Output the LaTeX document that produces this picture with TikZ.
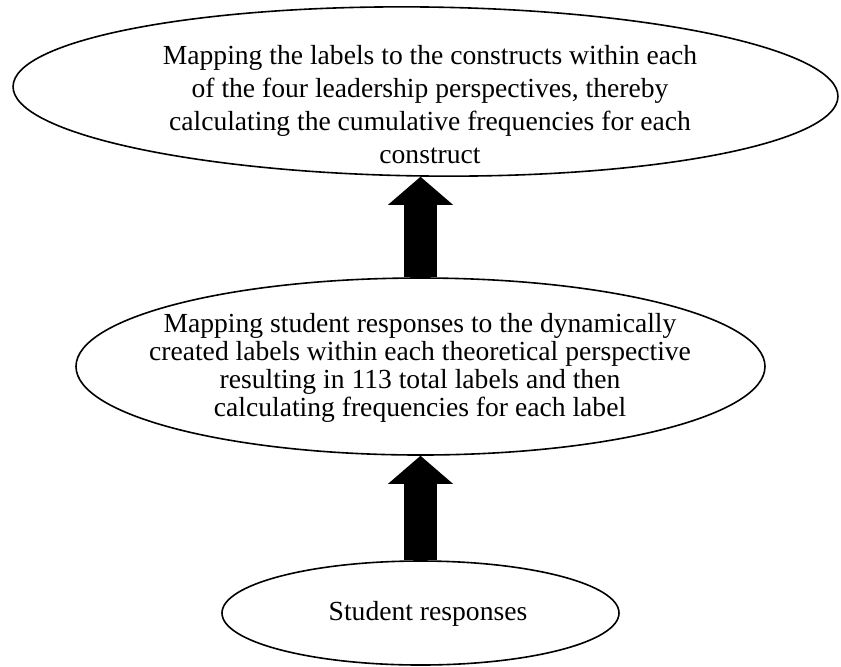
\documentclass[tikz,border=0pt]{standalone}
\usepackage{fontspec}
\setmainfont{Liberation Serif}
\usetikzlibrary{shapes.geometric,arrows.meta}
\begin{document}
\begin{tikzpicture}[x=0.5pt,y=-0.5pt,
  oval/.style={draw,ellipse,line width=0.8pt,inner sep=0pt},
  txt/.style={align=center,inner sep=0pt,font=\fontsize{13.8}{16.6}\selectfont},
  blockarrow/.style={line width=16.5pt,-{Triangle[width=32.5pt,length=14pt,line width=0pt]}}]
  \useasboundingbox (0,0) rectangle (841,666);
  % the three stages
  \node[oval,minimum width=412.5pt,minimum height=84.5pt,rotate=-0.7] (top) at (425.5,91.5) {};
  \node[oval,minimum width=344.5pt,minimum height=88.5pt] (mid) at (420.5,366.5) {};
  \node[oval,minimum width=198.5pt,minimum height=52pt] (bot) at (420.5,613) {};
  \node[txt] (toptxt) at (430,104.6) {Mapping the labels to the constructs within each\\
    of the four leadership perspectives, thereby\\
    calculating the cumulative frequencies for each\\
    construct};
  \node[txt,font=\fontsize{13.8}{14}\selectfont] (midtxt) at (420,367.6) {Mapping student responses to the dynamically\\
    created labels within each theoretical perspective\\
    resulting in 113 total labels and then\\
    calculating frequencies for each label};
  \node[txt] (bottxt) at (428,613.6) {Student responses};
  % arrows
  \draw[blockarrow] (bot.north) -- (mid.south);
  \draw[blockarrow] (mid.north) -- (mid.north |- top.south);
\end{tikzpicture}
\end{document}
